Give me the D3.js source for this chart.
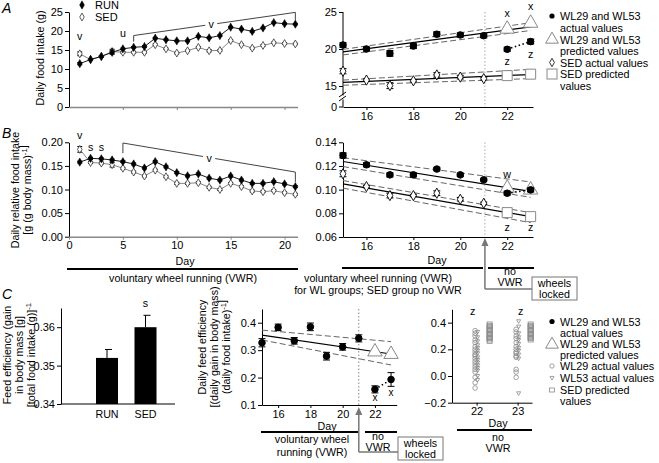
<!DOCTYPE html>
<html><head><meta charset="utf-8">
<script src="https://cdn.jsdelivr.net/npm/d3@7"></script>
<style>body{margin:0;background:#fff} svg text{font-family:"Liberation Sans",Arial,Helvetica,sans-serif;}</style>
</head><body>
<script>
// ================= DATA =================
const days = [1,2,3,4,5,6,7,8,9,10,11,12,13,14,15,16,17,18,19,20,21];
const runIntake = [11.4,12.5,13.3,14.4,15.3,15.7,15.9,18.1,17.7,17.4,17.4,18.6,18.2,18.8,21.0,20.5,19.9,20.8,22.2,21.9,21.8];
const sedIntake = [14.0,12.5,13.3,14.6,14.4,14.4,14.4,16.4,15.3,14.2,14.8,15.7,14.8,14.9,17.5,16.4,15.5,16.2,16.9,16.7,16.6];
const runIntakeErr = [0.3,0.2,0.2,0.5,0.2,0.2,0.2,0.2,0.2,0.2,0.2,0.2,0.2,0.2,0.2,0.2,0.2,0.2,0.2,0.2,0.2];
const sedIntakeErr = [0.5,0.2,0.2,0.6,0.2,0.2,0.2,0.2,0.2,0.2,0.2,0.2,0.3,0.2,0.2,0.2,0.2,0.2,0.2,0.2,0.2];
const runRel = [0.158,0.166,0.165,0.1625,0.159,0.154,0.1455,0.159,0.148,0.1356,0.129,0.133,0.124,0.120,0.1286,0.120,0.113,0.113,0.1165,0.1117,0.106];
const sedRel = [0.185,0.157,0.156,0.1525,0.145,0.137,0.1286,0.141,0.127,0.113,0.113,0.1144,0.1047,0.100,0.113,0.106,0.0968,0.0953,0.0975,0.0932,0.0898];
const runRelErr = [0.002,0.002,0.002,0.002,0.002,0.002,0.002,0.002,0.002,0.002,0.002,0.002,0.002,0.002,0.002,0.002,0.002,0.002,0.002,0.002,0.002];
const sedRelErr = [0.006,0.002,0.002,0.005,0.002,0.002,0.002,0.002,0.002,0.002,0.002,0.002,0.002,0.002,0.002,0.002,0.002,0.002,0.002,0.002,0.002];

const daysR = [15,16,17,18,19,20,21];
const lockedDays = [22,23];
const fitDays = [15,23];

const wlIntake = [20.54,20.0,19.4,20.4,22.0,21.9,21.8];
const wlIntakeErr = [0.3,0.25,0.35,0.3,0.3,0.25,0.25];
const wlIntakeLocked = [19.96,21.0];
const wlIntakeLockedErr = [0.25,0.3];
const wlIntakePred = [22.7,23.5];
const sedIntakeR = [17.0,15.8,15.05,15.7,16.5,16.2,16.0];
const sedIntakeRErr = [0.35,0.15,0.4,0.15,0.3,0.25,0.2];
const sedIntakePred = [16.4,16.6];
const wlIntakeFit = [19.6,23.0], wlIntakeFitHi = [19.95,23.55], wlIntakeFitLo = [19.2,22.5];
const sedIntakeFit = [15.5,16.55], sedIntakeFitHi = [15.8,17.25], sedIntakeFitLo = [15.1,16.0];

const wlRel = [0.1289,0.121,0.1125,0.1125,0.1174,0.1125,0.1083];
const wlRelErr = [0.002,0.0015,0.0015,0.0015,0.0012,0.0012,0.001];
const wlRelLocked = [0.097,0.0998];
const wlRelLockedErr = [0.0015,0.0015];
const wlRelPred = [0.1013,0.0998];
const sedRelR = [0.1134,0.1026,0.095,0.095,0.097,0.0919,0.0885];
const sedRelRErr = [0.0025,0.001,0.002,0.001,0.002,0.0015,0.001];
const sedRelPred = [0.0806,0.0772];
const wlRelFit = [0.1238,0.0985], wlRelFitHi = [0.127,0.1065], wlRelFitLo = [0.1195,0.0935];
const sedRelFit = [0.1049,0.0772], sedRelFitHi = [0.1077,0.0806], sedRelFitLo = [0.1013,0.0721];

const groups = ["RUN","SED"];
const feedEff = [0.352,0.360];
const feedEffErr = [0.0022,0.0031];

const wlFE = [0.327,0.383,0.334,0.385,0.278,0.312,0.343];
const wlFEErr = [0.015,0.012,0.012,0.014,0.014,0.012,0.013];
const wlFELocked = [0.157,0.193];
const wlFELockedErr = [0.013,0.025];
const wlFEPred = [0.294,0.285];
const wlFEFit = [0.355,0.286], wlFEFitHi = [0.373,0.331], wlFEFitLo = [0.337,0.246];

const wl29FE22 = [0.34,0.32,0.30,0.27,0.25,0.22,0.20,0.18,0.16,0.15,0.13,0.11,0.09,0.07,0.05,0.03,-0.01,-0.05,-0.09];
const wl53FE22 = [0.33,0.29,0.26,0.23,0.21,0.19,0.17,0.14,0.12,0.10,0.08,0.06,0.04,0.0,-0.03];
const sedFE22 = [0.39,0.38,0.37,0.36,0.35,0.34,0.33,0.32,0.31,0.30,0.29,0.28,0.27,0.26];
const wl29FE23 = [0.35,0.33,0.30,0.28,0.25,0.22,0.20,0.18,0.17,0.15,0.14,0.05,0.03,-0.01];
const wl53FE23 = [0.41,0.37,0.32,0.29,0.27,0.24,0.21,0.19,0.16,0.13,-0.13];
const sedFE23 = [0.39,0.38,0.37,0.36,0.35,0.34,0.33,0.32,0.31,0.30,0.29,0.28,0.27];

const ticksAL = [0,5,10,15,20,25];
const ticksBL = [0,0.05,0.10,0.15,0.20];
const ticksDayL = [0,5,10,15,20];
const ticksAR = [15,20,25];
const ticksBR = [0.06,0.08,0.10,0.12,0.14];
const ticksDayR = [16,18,20,22];
const ticksCL = [0.34,0.35,0.36];
const ticksCM = [0.1,0.2,0.3,0.4];
const ticksCR = [-0.2,0.0,0.2,0.4];
const ticksDayCR = [22,23];

// ================= DRAWING =================
const W = 659, H = 463;
const FS = 10.7, TK = 11, LG = 10.8;
const svg = d3.select('body').append('svg').attr('width', W).attr('height', H);
svg.append('rect').attr('width', W).attr('height', H).attr('fill', '#fff');

function T(x, y, s, o = {}) {
  const t = svg.append('text').attr('x', x).attr('y', y).text(s)
    .attr('font-size', o.size || FS).attr('text-anchor', o.anchor || 'start')
    .attr('fill', o.fill || '#000');
  if (o.italic) t.attr('font-style', 'italic');
  return t;
}
function RT(cx, cy, parts, size = FS) {
  const t = svg.append('text').attr('transform', `translate(${cx},${cy}) rotate(-90)`)
    .attr('text-anchor', 'middle').attr('font-size', size);
  parts.forEach(p => {
    if (typeof p === 'string') t.append('tspan').text(p);
    else { t.append('tspan').attr('dy', -4).attr('font-size', size * 0.72).text(p.sup);
           t.append('tspan').attr('dy', 4).text(''); }
  });
  return t;
}
function yAxis(scale, x, ticks, fmt, domain = true) {
  const g = svg.append('g').attr('transform', `translate(${x},0)`)
    .call(d3.axisLeft(scale).tickValues(ticks).tickFormat(fmt).tickSize(4).tickSizeOuter(0).tickPadding(2));
  g.selectAll('text').attr('font-size', TK).attr('fill', '#000');
  g.selectAll('line').attr('stroke', '#000');
  g.select('.domain').attr('stroke', '#000');
  if (!domain) g.select('.domain').remove();
  return g;
}
function xAxis(scale, y, ticks, fmt, color = '#000', width = 1) {
  const g = svg.append('g').attr('transform', `translate(0,${y})`)
    .call(d3.axisBottom(scale).tickValues(ticks).tickFormat(fmt).tickSize(3).tickSizeOuter(0).tickPadding(2));
  g.selectAll('text').attr('font-size', TK).attr('fill', '#000');
  g.selectAll('line').attr('stroke', color);
  g.select('.domain').attr('stroke', color).attr('stroke-width', width);
  return g;
}
function line(x1, y1, x2, y2, o = {}) {
  return svg.append('line').attr('x1', x1).attr('y1', y1).attr('x2', x2).attr('y2', y2)
    .attr('stroke', o.stroke || '#000').attr('stroke-width', o.w || 1)
    .attr('stroke-dasharray', o.dash || null);
}
function errbars(xs, ys, es, xs_, ys_, cap = 3, w = 1) {
  xs.forEach((d, i) => {
    const x = xs_(d), a = ys_(ys[i] - es[i]), b = ys_(ys[i] + es[i]);
    line(x, a, x, b, { w });
    line(x - cap, a, x + cap, a, { w });
    line(x - cap, b, x + cap, b, { w });
  });
}
function markers(xs, ys, xs_, ys_, type, size, fill, stroke, sw = 1, dx = 0) {
  const sym = d3.symbol().type(type).size(size);
  xs.forEach((d, i) => {
    svg.append('path').attr('d', sym())
      .attr('transform', `translate(${xs_(d) + dx},${ys_(ys[i])})`)
      .attr('fill', fill).attr('stroke', stroke).attr('stroke-width', sw);
  });
}
function series(xs, ys, xs_, ys_, stroke, w = 1, dash = null) {
  svg.append('path').attr('d', d3.line().x((d, i) => xs_(d)).y((d, i) => ys_(ys[i]))(xs))
    .attr('fill', 'none').attr('stroke', stroke).attr('stroke-width', w).attr('stroke-dasharray', dash);
}
const downTri = { draw(ctx, size) { const s = Math.sqrt(size) * 1.1; ctx.moveTo(-s/2, -s*0.38); ctx.lineTo(s/2, -s*0.38); ctx.lineTo(0, s*0.5); ctx.closePath(); } };

// ---------- scales ----------
const xL = d3.scaleLinear().domain([0, 21.2]).range([69, 297.5]);
const yA = d3.scaleLinear().domain([0, 25]).range([107, 12]);
const yB = d3.scaleLinear().domain([0, 0.2]).range([236.7, 142.3]);
const xR = d3.scaleLinear().domain([15, 23.1]).range([343, 533]);
const yAR = d3.scaleLinear().domain([15, 25]).range([86, 12]);
const yBR = d3.scaleLinear().domain([0.06, 0.14]).range([237, 142.3]);
const xCL = d3.scalePoint().domain(groups).range([107, 145.5]);
const yCL = d3.scaleLinear().domain([0.34, 0.365]).range([404, 308]);
const xCM = d3.scaleLinear().domain([15, 23.35]).range([262, 396.7]);
const yCM = d3.scaleLinear().domain([0.1, 0.45]).range([405, 309]);
const xCR = d3.scaleLinear().domain([21.4, 23.35]).range([452, 532]);
const yCR = d3.scaleLinear().domain([-0.2, 0.5]).range([402.7, 309.3]);
const fmt2 = d3.format('.2f'), fmt1 = d3.format('.1f');
const A_BASE = 107;

// ---------- Panel letters ----------
T(2, 13, 'A', { size: 14, italic: true });
T(2, 138, 'B', { size: 14, italic: true });
T(2, 299, 'C', { size: 14, italic: true });

// ================= Panel A left =================
yAxis(yA, 69, ticksAL, d3.format('d'));
xAxis(xL, 107, ticksDayL.slice(1), '', '#888', 1.5);
RT(44, 58, ['Daily food intake (g)']);
errbars(days, sedIntake, sedIntakeErr, xL, yA, 2.5);
errbars(days, runIntake, runIntakeErr, xL, yA, 2.5);
series(days, sedIntake, xL, yA, '#777', 0.9);
series(days, runIntake, xL, yA, '#000', 0.9);
markers(days, sedIntake, xL, yA, d3.symbolDiamond, 18, '#fff', '#333', 0.8);
markers(days, runIntake, xL, yA, d3.symbolDiamond, 20, '#000', '#000', 0.5);
markers([0], [0], () => 82, () => 5, d3.symbolDiamond, 20, '#000', '#000', 0.5);
T(95, 9, 'RUN', { size: 11 });
markers([0], [0], () => 82, () => 17, d3.symbolDiamond, 18, '#fff', '#333', 0.8);
T(95, 21, 'SED', { size: 11 });
T(xL(1), yA(17.6), 'v', { anchor: 'middle' });
T(xL(5), yA(18.5), 'u', { anchor: 'middle' });
{
  const x0 = xL(6), x1 = xL(21), y0 = yA(18.8), y1 = yA(24.9);
  const xm = xL(13.2), sl = (y1 - y0) / (x1 - x0), ym = y0 + sl * (xm - x0);
  line(x0, y0, x0, yA(17.2), { stroke: '#444' });
  line(x0, y0, xm - 6, ym - 6 * sl, { stroke: '#444' });
  line(xm + 6, ym + 6 * sl, x1, y1, { stroke: '#444' });
  line(x1, y1, x1, yA(22.9), { stroke: '#444' });
  T(xm, ym + 4, 'v', { anchor: 'middle' });
}

// ================= Panel A right =================
{
  yAxis(yAR, 343, ticksAR, d3.format('d'), false);
  line(343, yAR(25), 343, 95.5);
  line(343, 99.5, 343, A_BASE);
  line(339, 97, 346, 92);
  line(339, 101, 346, 96);
  line(339, A_BASE, 343, A_BASE);
  T(337, A_BASE + 4, '0', { anchor: 'end', size: TK });
  xAxis(xR, A_BASE, ticksDayR, d3.format('d'));
  line(xR(21.05), yAR(25), xR(21.05), A_BASE, { stroke: '#aaa', dash: '1.5,2' });
  series(fitDays, wlIntakeFitHi, xR, yAR, '#666', 1, '6,3');
  series(fitDays, wlIntakeFitLo, xR, yAR, '#666', 1, '6,3');
  series(fitDays, wlIntakeFit, xR, yAR, '#000', 1.2);
  series(fitDays, sedIntakeFitHi, xR, yAR, '#666', 1, '6,3');
  series(fitDays, sedIntakeFitLo, xR, yAR, '#666', 1, '6,3');
  series(fitDays, sedIntakeFit, xR, yAR, '#000', 1.2);
  markers(lockedDays, wlIntakePred, xR, yAR, d3.symbolTriangle, 90, '#fff', '#888', 1);
  markers(lockedDays, sedIntakePred, xR, yAR, d3.symbolSquare, 100, '#fff', '#888', 1);
  errbars(daysR, sedIntakeR, sedIntakeRErr, xR, yAR, 3.5, 1);
  markers(daysR, sedIntakeR, xR, yAR, d3.symbolDiamond, 30, '#fff', '#000', 0.9);
  errbars(daysR, wlIntake, wlIntakeErr, xR, yAR, 3.5, 1.6);
  markers(daysR, wlIntake, xR, yAR, d3.symbolCircle, 34, '#000', '#000');
  series(lockedDays, wlIntakeLocked, xR, yAR, '#000', 1.6, '1.5,2.5');
  errbars(lockedDays, wlIntakeLocked, wlIntakeLockedErr, xR, yAR, 3.5, 1.6);
  markers(lockedDays, wlIntakeLocked, xR, yAR, d3.symbolCircle, 34, '#000', '#000');
  T(xR(22), 17, 'x', { anchor: 'middle' });
  T(xR(23), 10, 'x', { anchor: 'middle' });
  T(xR(22), 65, 'z', { anchor: 'middle' });
  T(xR(23), 58, 'z', { anchor: 'middle' });
  const lx = 552, tx = 560;
  svg.append('circle').attr('cx', lx).attr('cy', 16).attr('r', 2.6).attr('fill', '#000');
  T(tx, 20, 'WL29 and WL53', { size: LG }); T(tx, 31.5, 'actual values', { size: LG });
  svg.append('path').attr('d', d3.symbol().type(d3.symbolTriangle).size(70)()).attr('transform', `translate(${lx},39.5)`).attr('fill', '#fff').attr('stroke', '#888');
  T(tx, 43.5, 'WL29 and WL53', { size: LG }); T(tx, 54.5, 'predicted values', { size: LG });
  svg.append('path').attr('d', d3.symbol().type(d3.symbolDiamond).size(20)()).attr('transform', `translate(${lx},62.5)`).attr('fill', '#fff').attr('stroke', '#000').attr('stroke-width', 0.8);
  T(tx, 66.5, 'SED actual values', { size: LG });
  svg.append('rect').attr('x', lx - 5).attr('y', 69).attr('width', 10).attr('height', 10).attr('fill', '#fff').attr('stroke', '#888');
  T(tx, 78, 'SED predicted', { size: LG }); T(tx, 89.5, 'values', { size: LG });
}

// ================= Panel B left =================
yAxis(yB, 69, ticksBL, fmt2);
xAxis(xL, 236.7, ticksDayL, d3.format('d'), '#888', 1.5);
RT(19, 190, ['Daily relative food intake']);
RT(31, 190, ['[g (g body mass)', { sup: '-1' }, ']']);
errbars(days, sedRel, sedRelErr, xL, yB, 2.5);
errbars(days, runRel, runRelErr, xL, yB, 2.5);
series(days, sedRel, xL, yB, '#777', 0.9);
series(days, runRel, xL, yB, '#000', 0.9);
markers(days, sedRel, xL, yB, d3.symbolDiamond, 18, '#fff', '#333', 0.8);
markers(days, runRel, xL, yB, d3.symbolDiamond, 20, '#000', '#000', 0.5);
T(xL(1), 139, 'v', { anchor: 'middle' });
T(xL(2), 151, 's', { anchor: 'middle' });
T(xL(3), 151, 's', { anchor: 'middle' });
{
  const x0 = xL(5), x1 = xL(21), y0 = yB(0.1985), y1 = yB(0.137);
  const xm = xL(13), sl = (y1 - y0) / (x1 - x0), ym = y0 + sl * (xm - x0);
  line(x0, y0, x0, yB(0.177), { stroke: '#444' });
  line(x0, y0, xm - 6, ym - 6 * sl, { stroke: '#444' });
  line(xm + 6, ym + 6 * sl, x1, y1, { stroke: '#444' });
  line(x1, y1, x1, yB(0.116), { stroke: '#444' });
  T(xm, ym + 4, 'v', { anchor: 'middle' });
}
T(185, 265, 'Day', { anchor: 'middle' });
line(67, 269, 298, 269, { w: 2 });
T(183, 282, 'voluntary wheel running (VWR)', { anchor: 'middle' });

// ================= Panel B right =================
{
  yAxis(yBR, 343, ticksBR, fmt2);
  xAxis(xR, 237, ticksDayR, d3.format('d'));
  line(xR(21.05), yBR(0.14), xR(21.05), 237, { stroke: '#aaa', dash: '1.5,2' });
  series(fitDays, wlRelFitHi, xR, yBR, '#666', 1, '6,3');
  series(fitDays, wlRelFitLo, xR, yBR, '#666', 1, '6,3');
  series(fitDays, wlRelFit, xR, yBR, '#000', 1.2);
  series(fitDays, sedRelFitHi, xR, yBR, '#666', 1, '6,3');
  series(fitDays, sedRelFitLo, xR, yBR, '#666', 1, '6,3');
  series(fitDays, sedRelFit, xR, yBR, '#000', 1.2);
  markers(lockedDays, wlRelPred, xR, yBR, d3.symbolTriangle, 90, '#fff', '#888', 1);
  markers(lockedDays, sedRelPred, xR, yBR, d3.symbolSquare, 100, '#fff', '#888', 1);
  errbars(daysR, sedRelR, sedRelRErr, xR, yBR, 3.5, 1);
  markers(daysR, sedRelR, xR, yBR, d3.symbolDiamond, 30, '#fff', '#000', 0.9);
  errbars(daysR, wlRel, wlRelErr, xR, yBR, 3.5, 1.6);
  markers(daysR, wlRel, xR, yBR, d3.symbolCircle, 34, '#000', '#000');
  series(lockedDays, wlRelLocked, xR, yBR, '#000', 1.6, '1.5,2.5');
  errbars(lockedDays, wlRelLocked, wlRelLockedErr, xR, yBR, 3.5, 1.6);
  markers(lockedDays, wlRelLocked, xR, yBR, d3.symbolCircle, 34, '#000', '#000');
  T(xR(22), 178, 'w', { anchor: 'middle' });
  T(xR(22), 231, 'z', { anchor: 'middle' });
  T(xR(23), 231, 'z', { anchor: 'middle' });
  T(437, 264, 'Day', { anchor: 'middle' });
  line(342, 268, 483, 268, { w: 2 });
  line(488, 268, 534, 268, { w: 2 });
  T(378, 282, 'voluntary wheel running (VWR)', { anchor: 'middle' });
  T(378, 294, 'for WL groups; SED group no VWR', { anchor: 'middle' });
  T(510, 275, 'no', { anchor: 'middle' });
  T(510, 285.5, 'VWR', { anchor: 'middle' });
  const ax = xR(21.05);
  line(ax, 243, ax, 289, { stroke: '#777', w: 1.5 });
  line(ax, 289, 532, 289, { stroke: '#777', w: 1.5 });
  svg.append('path').attr('d', `M${ax},238 L${ax - 3.5},246 L${ax + 3.5},246 Z`).attr('fill', '#777');
  svg.append('rect').attr('x', 532).attr('y', 277).attr('width', 45).attr('height', 23).attr('fill', '#fff').attr('stroke', '#777');
  T(554.5, 287, 'wheels', { anchor: 'middle' });
  T(554.5, 297.5, 'locked', { anchor: 'middle' });
}

// ================= Panel C left =================
{
  yAxis(yCL, 61, ticksCL, fmt2);
  line(61, 404, 175, 404);
  RT(11, 355, ['Feed efficiency (gain']);
  RT(23, 355, ['in body mass [g]']);
  RT(35, 355, ['[total food intake (g)]', { sup: '-1' }]);
  groups.forEach((gname, i) => {
    const cx = xCL(gname);
    const top = yCL(feedEff[i]);
    svg.append('rect').attr('x', cx - 11).attr('y', top).attr('width', 22).attr('height', 404 - top).attr('fill', '#000');
    const e = yCL(feedEff[i] + feedEffErr[i]);
    line(cx, top, cx, e, { w: 1 });
    line(cx - 2, e, cx + 5, e, { w: 1 });
    T(cx, 418, gname, { anchor: 'middle' });
  });
  T(xCL('SED'), 307, 's', { anchor: 'middle' });
}

// ================= Panel C middle =================
{
  yAxis(yCM, 262, ticksCM, fmt1);
  xAxis(xCM, 405, ticksDayR, d3.format('d'));
  RT(206, 347, ['Daily feed efficiency']);
  RT(218, 347, ['[(daily gain in body mass)']);
  RT(230, 347, ['(daily food intake)', { sup: '-1' }, ']']);
  const dx = xCM(21);
  line(dx, 309, dx, 405, { stroke: '#888', dash: '1.5,2' });
  series(fitDays, wlFEFitHi, xCM, yCM, '#666', 1, '6,3');
  series(fitDays, wlFEFitLo, xCM, yCM, '#666', 1, '6,3');
  series(fitDays, wlFEFit, xCM, yCM, '#000', 1.2);
  markers(lockedDays, wlFEPred, xCM, yCM, d3.symbolTriangle, 90, '#fff', '#888', 1);
  errbars(daysR, wlFE, wlFEErr, xCM, yCM, 3.5, 1);
  markers(daysR, wlFE, xCM, yCM, d3.symbolCircle, 34, '#000', '#000');
  series(lockedDays, wlFELocked, xCM, yCM, '#000', 1.6, '1.5,2.5');
  errbars(lockedDays, wlFELocked, wlFELockedErr, xCM, yCM, 3.5, 1);
  markers(lockedDays, wlFELocked, xCM, yCM, d3.symbolCircle, 34, '#000', '#000');
  T(xCM(22), 401, 'x', { anchor: 'middle', size: 10 });
  T(xCM(23), 396, 'x', { anchor: 'middle', size: 10 });
  T(327, 430, 'Day', { anchor: 'middle' });
  line(261, 432, 358, 432, { w: 2 });
  line(365, 432, 397, 432, { w: 2 });
  T(312, 443, 'voluntary wheel', { anchor: 'middle' });
  T(312, 456, 'running (VWR)', { anchor: 'middle' });
  T(378, 440, 'no', { anchor: 'middle' });
  T(378, 450.5, 'VWR', { anchor: 'middle' });
  line(dx, 413, dx, 452, { stroke: '#777', w: 1.5 });
  line(dx, 452, 398, 452, { stroke: '#777', w: 1.5 });
  svg.append('path').attr('d', `M${dx},407 L${dx - 3.5},415 L${dx + 3.5},415 Z`).attr('fill', '#777');
  svg.append('rect').attr('x', 398).attr('y', 437).attr('width', 45).attr('height', 23).attr('fill', '#fff').attr('stroke', '#777');
  T(420.5, 447, 'wheels', { anchor: 'middle' });
  T(420.5, 457.5, 'locked', { anchor: 'middle' });
}

// ================= Panel C right =================
{
  yAxis(yCR, 452, ticksCR, fmt1);
  xAxis(xCR, 402.7, ticksDayCR, d3.format('d'));
  const grey = '#8a8a8a';
  const sqOff = 13;
  [[22, wl29FE22, wl53FE22, sedFE22], [23, wl29FE23, wl53FE23, sedFE23]].forEach(([d, c, t, s]) => {
    c.forEach(v => svg.append('circle').attr('cx', xCR(d) - 1.5).attr('cy', yCR(v)).attr('r', 2.3).attr('fill', 'none').attr('stroke', grey).attr('stroke-width', 0.8));
    t.forEach(v => svg.append('path').attr('d', d3.symbol().type(downTri).size(14)()).attr('transform', `translate(${xCR(d) + 1},${yCR(v)})`).attr('fill', 'none').attr('stroke', grey).attr('stroke-width', 0.8));
    s.forEach(v => svg.append('rect').attr('x', xCR(d) + sqOff - 2.5).attr('y', yCR(v) - 2).attr('width', 5).attr('height', 4).attr('fill', 'none').attr('stroke', grey).attr('stroke-width', 0.8));
  });
  T(xCR(22) - 4, 315, 'z', { anchor: 'middle' });
  T(xCR(23) + 3, 315, 'z', { anchor: 'middle' });
  T(498, 427, 'Day', { anchor: 'middle' });
  line(457, 430, 532, 430, { w: 2 });
  T(498, 441, 'no', { anchor: 'middle' });
  T(498, 451.5, 'VWR', { anchor: 'middle' });
  const lx = 552, tx = 560;
  svg.append('circle').attr('cx', lx).attr('cy', 321.5).attr('r', 2.6).attr('fill', '#000');
  T(tx, 325.5, 'WL29 and WL53', { size: LG }); T(tx, 336.5, 'actual values', { size: LG });
  svg.append('path').attr('d', d3.symbol().type(d3.symbolTriangle).size(70)()).attr('transform', `translate(${lx},344.5)`).attr('fill', '#fff').attr('stroke', '#888');
  T(tx, 348, 'WL29 and WL53', { size: LG }); T(tx, 359, 'predicted values', { size: LG });
  svg.append('circle').attr('cx', lx).attr('cy', 366).attr('r', 2.2).attr('fill', 'none').attr('stroke', grey).attr('stroke-width', 0.8);
  T(tx, 370, 'WL29 actual values', { size: LG });
  svg.append('path').attr('d', d3.symbol().type(downTri).size(14)()).attr('transform', `translate(${lx},378)`).attr('fill', 'none').attr('stroke', grey).attr('stroke-width', 0.8);
  T(tx, 382, 'WL53 actual values', { size: LG });
  svg.append('rect').attr('x', lx - 2.5).attr('y', 388).attr('width', 5).attr('height', 4).attr('fill', 'none').attr('stroke', grey).attr('stroke-width', 0.8);
  T(tx, 394, 'SED predicted', { size: LG }); T(tx, 405, 'values', { size: LG });
}
</script>
</body></html>
